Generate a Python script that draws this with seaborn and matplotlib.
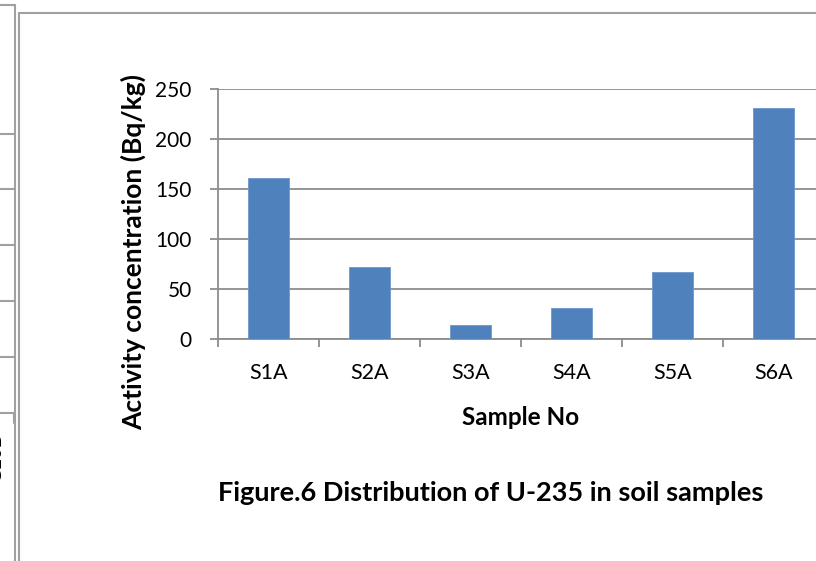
import matplotlib
matplotlib.use("Agg")
import matplotlib.pyplot as plt
from matplotlib.lines import Line2D
import pandas as pd
import seaborn as sns

# --- data ---
muestras = ["S1A", "S2A", "S3A", "S4A", "S5A", "S6A"]
actividad = [161, 72, 14, 31, 67, 231]
yticks = [0, 50, 100, 150, 200, 250]

AZUL = "#4F81BD"
GRIS = "#8c8c8c"
MARCO = "#a0a0a0"
W, H = 816, 561

sns.set_theme(style="white")
plt.rcParams["font.family"] = ["Lato", "DejaVu Sans"]

df = pd.DataFrame({"muestra": muestras, "actividad": actividad})

fig = plt.figure(figsize=(W / 100, H / 100), dpi=100)
fig.patch.set_facecolor("white")

# plot area in pixel terms: left 218, zero line at 339, 250 line at 89, 101 px per category
ax = fig.add_axes([218 / W, (H - 339) / H, 606 / W, 250 / H])
sns.barplot(data=df, x="muestra", y="actividad", color=AZUL, width=0.4,
            saturation=1, edgecolor="#6d97cc", linewidth=0.6, ax=ax, zorder=3)

ax.set_xlim(-0.5, 5.5)
ax.set_ylim(0, 250)
ax.set_yticks(yticks)
ax.yaxis.grid(True, color=GRIS, linewidth=1.3, zorder=0)
ax.set_axisbelow(True)

for lado in ["top", "right"]:
    ax.spines[lado].set_visible(False)
for lado in ["left", "bottom"]:
    ax.spines[lado].set_color(GRIS)
    ax.spines[lado].set_linewidth(1.3)

# tick marks between categories, labels at the centres
ax.set_xticks([i - 0.5 for i in range(len(muestras) + 1)], minor=True)
ax.tick_params(axis="x", which="minor", length=6, width=1.3, color=GRIS, bottom=True)
ax.tick_params(axis="x", which="major", length=0, pad=17, labelsize=15.5, labelcolor="black")
ax.tick_params(axis="y", which="major", length=6, width=1.3, color=GRIS, left=True,
               pad=13, labelsize=15, labelcolor="black")

ax.set_xlabel("Sample No", fontsize=17.5, fontweight="bold", color="black")
ax.xaxis.set_label_coords(0.5, -0.316)
ax.xaxis.label.set_va("center")
ax.set_ylabel("Activity concentration (Bq/kg)", fontsize=19, fontweight="bold", color="black")
ax.yaxis.set_label_coords(-0.14, 0.35)
ax.yaxis.label.set_va("center")

fig.text(491 / W, 1 - 493 / H, "Figure.6 Distribution of U-235 in soil samples",
         ha="center", va="center", fontsize=19.5, fontweight="bold", color="black")

# --- scanned table frame around the chart ---
def linea(x0, y0, x1, y1):
    fig.add_artist(Line2D([x0 / W, x1 / W], [1 - y0 / H, 1 - y1 / H],
                          transform=fig.transFigure, color=MARCO, linewidth=1.5))

linea(15, 5, 15, H)
linea(0, 5, 15, 5)
linea(19, 13, 19, H)
linea(19, 13, W, 13)
for y in [134, 189, 245, 301, 357, 413]:
    linea(0, y, 15, y)
linea(14, 413, 14, 423)

# cell text of the neighbouring table column, cut off by the scan edge as in the reference
fig.text(5 / W, 1 - 457 / H, "S10B", rotation=90, ha="right", va="center",
         fontsize=14, family="Liberation Sans", color="black")

fig.savefig("out.png", dpi=100, facecolor="white")
